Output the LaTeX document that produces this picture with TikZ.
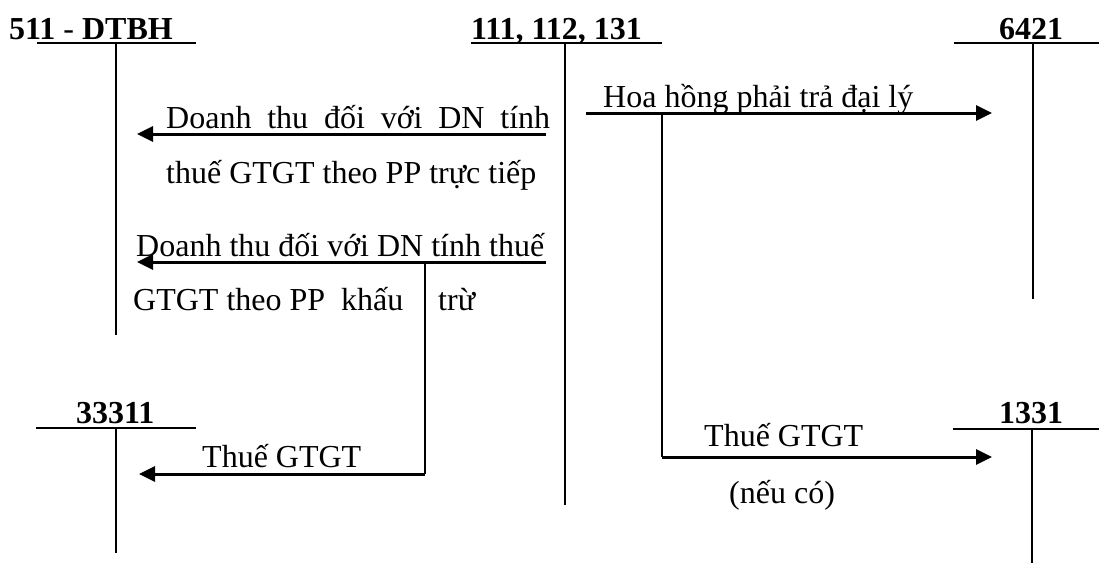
\documentclass[tikz,border=0pt]{standalone}
\usepackage{fontspec}
\setmainfont{Liberation Serif}
\usetikzlibrary{arrows.meta}
\begin{document}
\begin{tikzpicture}[x=1pt,y=-1pt,
  txt/.style={anchor=base west,inner sep=0pt,font=\fontsize{32}{38}\selectfont},
  ttl/.style={txt,font=\fontsize{32}{38}\selectfont\bfseries},
  acct/.style={line width=1.6pt},
  flow/.style={line width=3pt,-{Triangle[length=16pt,width=15pt]}},
  plain/.style={line width=1.6pt}]
\useasboundingbox (0,0) rectangle (1099,563);
% titles
\node[txt] (t511) at (9,39) {\textbf{511} - \textbf{DTBH}};
\node[ttl] (t111) at (471,39) {111, 112, 131};
\node[ttl] (t6421) at (999,39) {6421};
\node[ttl] (t33311) at (76,423) {33311};
\node[ttl] (t1331) at (999,423) {1331};
% T-account lines
\coordinate (a511l) at (37,43); \coordinate (a511r) at (196,43);
\coordinate (a511t) at (116,43); \coordinate (a511b) at (116,335);
\coordinate (a111l) at (471,43); \coordinate (a111r) at (662,43);
\coordinate (a111t) at (565,43); \coordinate (a111b) at (565,505);
\coordinate (a6421l) at (954,43); \coordinate (a6421r) at (1099,43);
\coordinate (a6421t) at (1033,43); \coordinate (a6421b) at (1033,299);
\coordinate (a333l) at (36,428); \coordinate (a333r) at (196,428);
\coordinate (a333t) at (116,428); \coordinate (a333b) at (116,553);
\coordinate (a1331l) at (953,429); \coordinate (a1331r) at (1099,429);
\coordinate (a1331t) at (1032,429); \coordinate (a1331b) at (1032,563);
\foreach \a in {511,111,6421,333,1331}{
  \draw[acct] (a\a l) -- (a\a r);
  \draw[acct] (a\a t) -- (a\a b);
}
% flow coordinates
\coordinate (s1) at (546,134); \coordinate (e1) at (137,134);
\coordinate (s2) at (546,262); \coordinate (e2) at (137,262);
\coordinate (b2) at (425,262); \coordinate (k2) at (425,474); \coordinate (e3) at (139,474);
\coordinate (s4) at (586,113); \coordinate (e4) at (992,113);
\coordinate (b4) at (662,113); \coordinate (k4) at (662,457); \coordinate (e5) at (992,457);
\draw[flow] (s1) -- (e1);
\draw[flow] (s2) -- (e2);
\draw[plain] (b2) -- (k2);
\draw[flow] (k2) -- (e3);
\draw[flow] (s4) -- (e4);
\draw[plain] (b4) -- (k4);
\draw[flow] (k4) -- (e5);
% labels
\node[txt] (l1a) at (166,128) {\makebox[384pt][s]{Doanh thu đối với DN tính}};
\node[txt] (l1b) at (166,183) {thuế GTGT theo PP trực tiếp};
\node[txt] (l2a) at (136,256) {Doanh thu đối với DN tính thuế};
\node[txt] (l2b) at (133,310) {GTGT theo PP\ \ khấu};
\node[txt] (l2c) at (438,310) {trừ};
\node[txt] (l3) at (202,467) {Thuế GTGT};
\node[txt] (l4) at (603,107) {Hoa hồng phải trả đại lý};
\node[txt] (l5) at (704,446) {Thuế GTGT};
\node[txt] (l6) at (729,503) {(nếu có)};
\end{tikzpicture}
\end{document}
